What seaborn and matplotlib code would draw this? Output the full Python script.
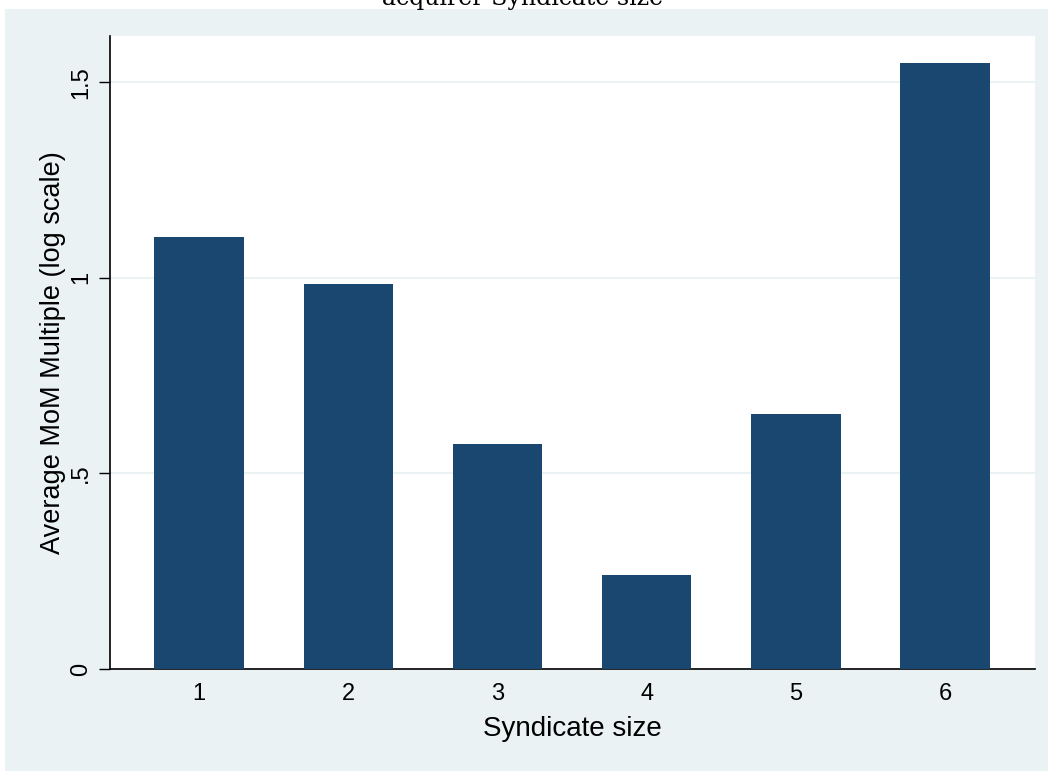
import matplotlib
matplotlib.use("Agg")
import matplotlib.pyplot as plt
import matplotlib.patches as mpatches
import seaborn as sns
import pandas as pd

# values
syndicate_size = ["1", "2", "3", "4", "5", "6"]
avg_mom = [1.104, 0.984, 0.575, 0.240, 0.652, 1.549]
y_ticks = [0, 0.5, 1, 1.5]
y_tick_labels = ["0", ".5", "1", "1.5"]

bar_color = "#1a476f"
panel_bg = "#eaf2f3"
grid_color = "#eaf2f3"

sns.set_theme(style="white")
plt.rcParams["font.family"] = ["Liberation Sans", "DejaVu Sans"]
plt.rcParams["text.color"] = "black"
plt.rcParams["axes.labelcolor"] = "black"
plt.rcParams["xtick.color"] = "black"
plt.rcParams["ytick.color"] = "black"

df = pd.DataFrame({"size": syndicate_size, "mom": avg_mom})

W, H = 1048, 771
fig = plt.figure(figsize=(W / 100, H / 100), dpi=100, facecolor="white")

# outer Stata-like panel, kept behind the axes
panel = mpatches.Rectangle((5 / W, 0), 1 - 5 / W, 1 - 9 / H,
                           transform=fig.transFigure, facecolor=panel_bg,
                           edgecolor="none", zorder=-10)
fig.add_artist(panel)

ax = fig.add_axes([110 / W, 1 - 669 / H, (1035 - 110) / W, (669 - 36) / H])
ax.set_zorder(5)
ax.set_facecolor("white")

sns.barplot(data=df, x="size", y="mom", order=syndicate_size, color=bar_color,
            saturation=1, width=0.6, linewidth=0, ax=ax, zorder=3)

ax.set_xlim(-0.597, 5.603)
ax.set_ylim(0, 1.618)
ax.set_yticks(y_ticks)
ax.set_yticklabels(y_tick_labels, rotation=90, va="center", fontsize=17)
ax.tick_params(axis="y", length=8, width=1, pad=5, left=True)
ax.tick_params(axis="x", length=0, pad=10, labelsize=17)

ax.yaxis.grid(True, color=grid_color, linewidth=1.5, zorder=0)
ax.xaxis.grid(False)

for s in ["top", "right"]:
    ax.spines[s].set_visible(False)
for s in ["left", "bottom"]:
    ax.spines[s].set_color("black")
    ax.spines[s].set_linewidth(1.2)

ax.set_xlabel("Syndicate size", fontsize=20, labelpad=8)
ax.set_ylabel("Average MoM Multiple (log scale)", fontsize=19.5, labelpad=3)

# title clipped at the top edge as in the original export
fig.text(523 / W, 1 - 5 / H, "acquirer Syndicate size", ha="center",
         va="baseline", fontsize=17, family=["DejaVu Serif"], zorder=10)

fig.savefig("out.png", dpi=100, facecolor="white")
